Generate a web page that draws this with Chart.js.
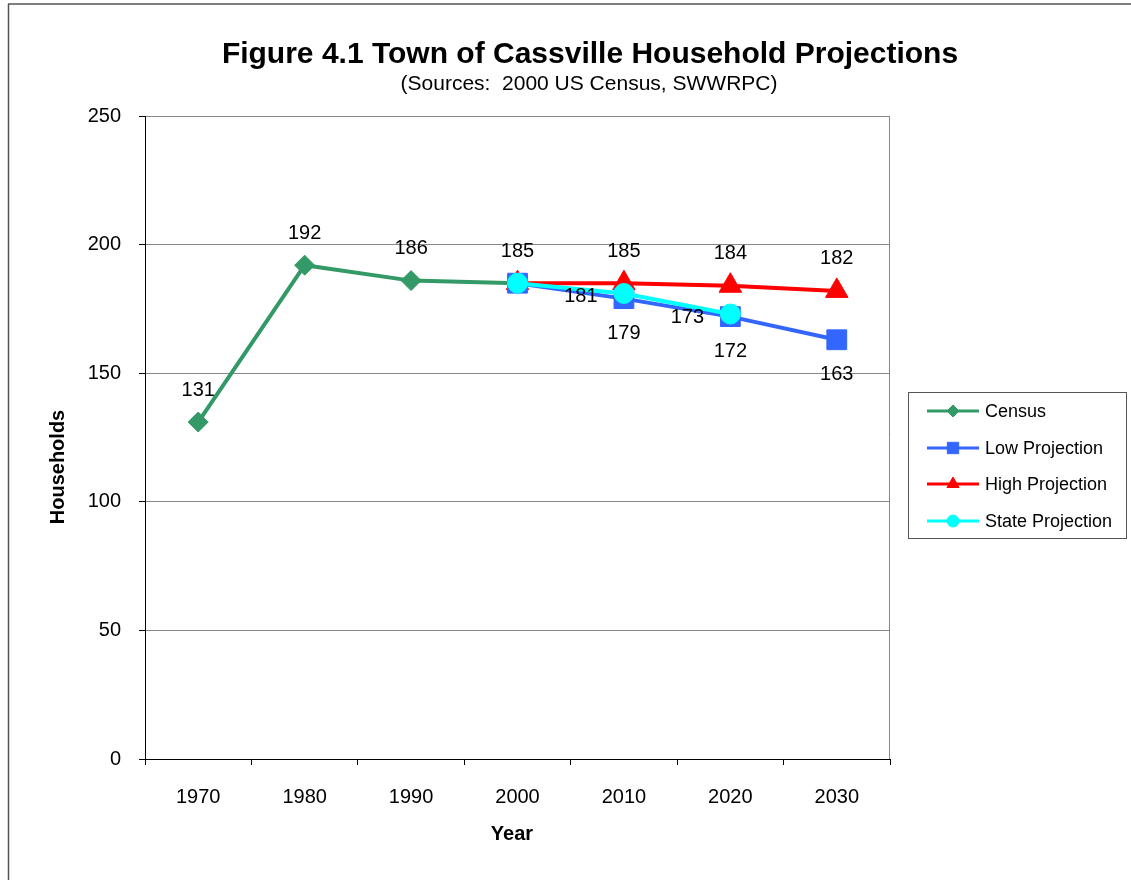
<!DOCTYPE html>
<html><head><meta charset="utf-8">
<script src="https://cdn.jsdelivr.net/npm/chart.js@4/dist/chart.umd.min.js"></script>
<style>html,body{margin:0;padding:0;background:#fff;} canvas{display:block;}</style>
</head><body>
<canvas id="c" width="1131" height="880"></canvas>
<script>
const years = ['1970','1980','1990','2000','2010','2020','2030'];
const census = [131,192,186,185,null,null,null];
const lowProj = [null,null,null,185,179,172,163];
const highProj = [null,null,null,185,185,184,182];
const stateProj = [null,null,null,185,181,173,null];
const yTickMin = 0, yTickMax = 250, yTickStep = 50;
const titleText = 'Figure 4.1 Town of Cassville Household Projections';
const subtitleText = '(Sources:  2000 US Census, SWWRPC)';
const FONT = '"Liberation Sans", Arial, sans-serif';

const labelPlugin = {
  id: 'valueLabels',
  afterDatasetsDraw(chart) {
    const ctx = chart.ctx;
    ctx.save();
    ctx.font = '20px ' + FONT;
    ctx.fillStyle = '#000';
    ctx.textBaseline = 'middle';
    ctx.textAlign = 'center';
    chart.data.datasets.forEach((ds, di) => {
      const meta = chart.getDatasetMeta(di);
      meta.data.forEach((pt, i) => {
        const v = ds.data[i];
        if (v === null || (ds.labelSkip || []).includes(i)) return;
        let x = pt.x, y = pt.y;
        if (ds.labelPos === 'above') y -= 32;
        else if (ds.labelPos === 'below') y += 35;
        else if (ds.labelPos === 'left') { x -= 43; y += 3; }
        ctx.fillText(String(v), x, y);
      });
    });
    ctx.restore();
  }
};

const decorPlugin = {
  id: 'decor',
  afterDraw(chart) {
    const ctx = chart.ctx;
    const a = chart.chartArea;
    ctx.save();
    ctx.strokeStyle = '#555';
    ctx.lineWidth = 1.5;
    ctx.beginPath(); ctx.moveTo(8, 4); ctx.lineTo(1131, 4); ctx.stroke();
    ctx.beginPath(); ctx.moveTo(8.5, 4); ctx.lineTo(8.5, 880); ctx.stroke();
    ctx.strokeStyle = '#888';
    ctx.lineWidth = 1;
    ctx.beginPath(); ctx.moveTo(a.right - 0.5, a.top); ctx.lineTo(a.right - 0.5, a.bottom); ctx.stroke();
    ctx.fillStyle = '#000';
    ctx.textAlign = 'center';
    ctx.textBaseline = 'alphabetic';
    ctx.font = 'bold 30px ' + FONT;
    ctx.fillText(titleText, 590, 63);
    ctx.font = '21px ' + FONT;
    ctx.fillText(subtitleText, 589, 90);
    ctx.font = 'bold 20px ' + FONT;
    ctx.textBaseline = 'middle';
    ctx.fillText('Year', 512, 834);
    ctx.save();
    ctx.translate(58, 467);
    ctx.rotate(-Math.PI / 2);
    ctx.fillText('Households', 0, 0);
    ctx.restore();
    const lx = 908, ly = 392, lw = 218, lh = 146;
    ctx.strokeStyle = '#555';
    ctx.lineWidth = 1;
    ctx.strokeRect(lx + 0.5, ly + 0.5, lw, lh);
    const rows = [411, 448, 484, 521];
    ctx.font = '18px ' + FONT;
    ctx.textAlign = 'left';
    chart.data.datasets.forEach((ds, k) => {
      const y = rows[k];
      ctx.strokeStyle = ds.borderColor;
      ctx.lineWidth = 3;
      ctx.beginPath(); ctx.moveTo(927, y); ctx.lineTo(979, y); ctx.stroke();
      ctx.fillStyle = ds.borderColor;
      ctx.lineWidth = 1;
      Chart.helpers.drawPoint(ctx, {pointStyle: ds.pointStyle, radius: ds.legendRadius, rotation: 0, borderWidth: 1}, 953, y);
      ctx.fillStyle = '#000';
      ctx.fillText(ds.label, 985, y + 1);
    });
    ctx.restore();
  }
};

function series(label, data, color, style, radius, legendRadius, order, labelPos, labelSkip) {
  return {
    label, data, order, labelPos, labelSkip, legendRadius,
    borderColor: color, backgroundColor: color,
    pointBackgroundColor: color, pointBorderColor: color,
    borderWidth: 4, pointStyle: style, pointRadius: radius, pointBorderWidth: 1,
    pointHoverRadius: radius, tension: 0, spanGaps: false, fill: false
  };
}

new Chart(document.getElementById('c'), {
  type: 'line',
  data: {
    labels: years,
    datasets: [
      series('Census', census, '#339966', 'rectRot', 10, 6, 3, 'above', []),
      series('Low Projection', lowProj, '#3366FF', 'rect', 14, 8, 1, 'below', [3]),
      series('High Projection', highProj, '#FF0000', 'triangle', 13, 7, 2, 'above', [3]),
      series('State Projection', stateProj, '#00FFFF', 'circle', 10, 6, 0, 'left', [3])
    ]
  },
  options: {
    responsive: false,
    animation: false,
    devicePixelRatio: 1,
    layout: { padding: { left: 0, top: 116, right: 241, bottom: 0 } },
    plugins: { legend: { display: false }, title: { display: false }, tooltip: { enabled: false } },
    scales: {
      x: {
        type: 'category',
        offset: true,
        grid: { display: true, offset: true, drawOnChartArea: false, drawTicks: true, tickLength: 6, tickColor: '#000', color: '#000' },
        border: { display: true, color: '#000', width: 1 },
        ticks: { font: { family: FONT, size: 20 }, color: '#000', padding: 20, maxRotation: 0, autoSkip: false },
        afterFit(s) { s.height = 121; }
      },
      y: {
        min: yTickMin, max: yTickMax,
        grid: { color: (c) => c.tick && c.tick.value === 0 ? 'rgba(0,0,0,0)' : '#888', drawTicks: true, tickLength: 6, tickColor: '#000' },
        border: { display: true, color: '#000', width: 1 },
        ticks: { stepSize: yTickStep, font: { family: FONT, size: 20 }, color: '#000', padding: 18 },
        afterFit(s) { s.width = 145; }
      }
    }
  },
  plugins: [labelPlugin, decorPlugin]
});
</script>
</body></html>
